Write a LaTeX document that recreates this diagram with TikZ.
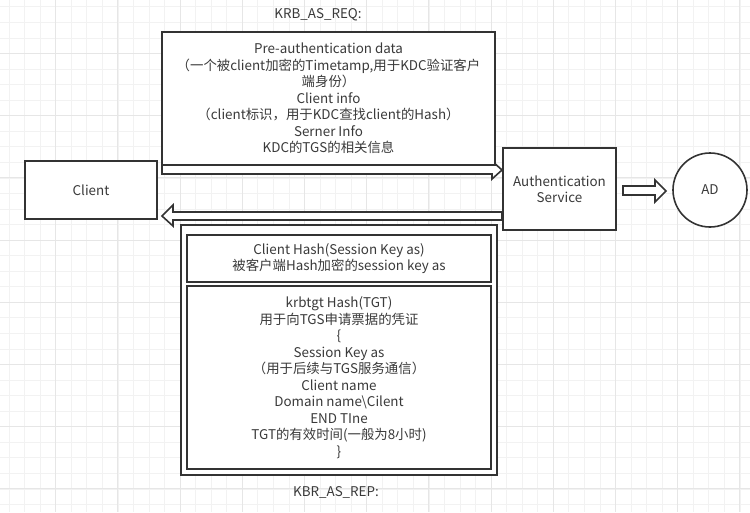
\documentclass[tikz,border=0pt]{standalone}
\usepackage{fontspec}
\setmainfont{Noto Sans CJK SC}
\usetikzlibrary{calc}
\definecolor{ink}{HTML}{333333}
\definecolor{txtc}{HTML}{3A3A3A}
\definecolor{gridminor}{HTML}{F2F2F2}
\definecolor{gridmajor}{HTML}{E6E6E6}
\begin{document}
\begin{tikzpicture}[x=1pt,y=-1pt,
  box/.style={draw=ink,line width=1.6pt,fill=white,inner sep=0pt},
  txt/.style={text=txtc,font=\fontsize{13.4}{16.5}\selectfont,align=center},
  blk/.style={draw=ink,line width=1.6pt,fill=white,line join=miter},
  lbl/.style={text=txtc,font=\fontsize{13.4}{16.5}\selectfont}]
\useasboundingbox (0,0) rectangle (750,512);
\fill[white] (0,0) rectangle (750,512);
% background grid
\foreach \i in {0,...,47} \draw[gridminor,line width=0.8pt] ({9.05+\i*15.55},0) -- ({9.05+\i*15.55},512);
\foreach \j in {0,...,32} \draw[gridminor,line width=0.8pt] (0,{6.85+\j*15.55}) -- (750,{6.85+\j*15.55});
\foreach \i in {0,...,11} \draw[gridmajor,line width=1pt] ({55.7+\i*62.2},0) -- ({55.7+\i*62.2},512);
\foreach \j in {0,...,7} \draw[gridmajor,line width=1pt] (0,{53.5+\j*62.2}) -- (750,{53.5+\j*62.2});

% labels
\node[lbl] (reqlbl) at (318,15) {KRB\_AS\_REQ:};
\node[lbl] (replbl) at (336,492) {KBR\_AS\_REP:};

% client
\node[box,txt,minimum width=132pt,minimum height=58pt] (client) at (91,190) {Client};

% request arrow (drawn below the request box)
\coordinate (reqstart) at (162,165);
\draw[blk] (reqstart) -- ++(330,0) -- ++(0,-4) -- ++(10,9) -- ++(-10,9) -- ++(0,-5) -- ++(-330,0) -- cycle;

\node[box,txt,minimum width=333pt,minimum height=133pt] (req) at (328.5,98.5)
  {Pre-authentication data\\（一个被client加密的Timetamp,用于KDC验证客户\\端身份）\\Client info\\（client标识，用于KDC查找client的Hash）\\Serner Info\\KDC的TGS的相关信息};

% reply arrow
\coordinate (repstart) at (502,212);
\draw[blk] (repstart) -- ++(-329,0) -- ++(0,-7) -- ++(-11,11) -- ++(11,10) -- ++(0,-6) -- ++(329,0) -- cycle;

\node[box,txt,minimum width=113pt,minimum height=82pt] (as) at (559.5,189) {Authentication\\Service};

% AS -> AD arrow
\coordinate (adstart) at (623,186);
\draw[blk] (adstart) -- ++(32,0) -- ++(0,-6) -- ++(11,11) -- ++(-11,11) -- ++(0,-7) -- ++(-32,0) -- cycle;

\node[box,txt,circle,minimum size=74pt] (ad) at (710,190) {AD};

% reply boxes
\node[box,minimum width=316pt,minimum height=250pt] (rep) at (339,350) {};
\node[box,txt,minimum width=304pt,minimum height=47pt] (sess) at (339,258.5)
  {Client Hash(Session Key as)\\被客户端Hash加密的session key as};
\node[box,txt,minimum width=304pt,minimum height=183pt] (tgt) at (339,377.5)
  {krbtgt Hash(TGT)\\用于向TGS申请票据的凭证\\\{\\Session Key as\\（用于后续与TGS服务通信）\\Client name\\Domain name\textbackslash Cilent\\END TIne\\TGT的有效时间(一般为8小时)\\\}};
\end{tikzpicture}
\end{document}
